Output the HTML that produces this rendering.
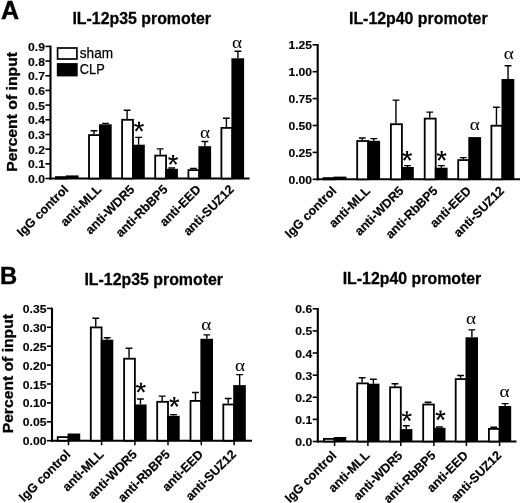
<!DOCTYPE html>
<html><head><meta charset="utf-8"><title>Figure</title>
<style>html,body{margin:0;padding:0;background:#fff}svg{display:block}</style></head><body>
<svg width="520" height="503" viewBox="0 0 520 503" font-family='"Liberation Sans", sans-serif' fill="#000">
<defs><filter id="b" x="0" y="0" width="520" height="503" filterUnits="userSpaceOnUse"><feGaussianBlur stdDeviation="0.35"/></filter></defs>
<rect width="520" height="503" fill="#fff"/>
<g filter="url(#b)">
<text x="0.9" y="18.7" font-size="25" font-weight="bold" stroke="#000" stroke-width="0.4">A</text>
<text transform="translate(-0.1 284.4) scale(0.95 0.99)" font-size="25" font-weight="bold" stroke="#000" stroke-width="0.4">B</text>
<text x="141.7" y="24.3" text-anchor="middle" font-size="17" textLength="138.6" lengthAdjust="spacingAndGlyphs" font-weight="bold" stroke="#000" stroke-width="0.3">IL-12p35 promoter</text>
<text x="418.3" y="24.2" text-anchor="middle" font-size="17" textLength="138.6" lengthAdjust="spacingAndGlyphs" font-weight="bold" stroke="#000" stroke-width="0.3">IL-12p40 promoter</text>
<text x="153.7" y="285.1" text-anchor="middle" font-size="17" textLength="138.6" lengthAdjust="spacingAndGlyphs" font-weight="bold" stroke="#000" stroke-width="0.3">IL-12p35 promoter</text>
<text x="412.0" y="284.3" text-anchor="middle" font-size="17" textLength="138.6" lengthAdjust="spacingAndGlyphs" font-weight="bold" stroke="#000" stroke-width="0.3">IL-12p40 promoter</text>
<text transform="translate(17.0 171.8) rotate(-90)" font-size="14.3" textLength="119.8" lengthAdjust="spacingAndGlyphs" font-weight="bold" stroke="#000" stroke-width="0.3">Percent of input</text>
<text transform="translate(13.4 433.3) rotate(-90)" font-size="14.3" textLength="119.3" lengthAdjust="spacingAndGlyphs" font-weight="bold" stroke="#000" stroke-width="0.3">Percent of input</text>
<path d="M50.5 45.65V179.5" stroke="#000" stroke-width="2.1" fill="none"/>
<path d="M49.45 178.5H249.6" stroke="#000" stroke-width="2" fill="none"/>
<path d="M45.40 178.50H50.5" stroke="#000" stroke-width="1.6"/>
<text transform="translate(44.90 183.00) scale(1.03 1)" text-anchor="end" font-size="11.8" font-weight="bold" stroke="#000" stroke-width="0.15">0.0</text>
<path d="M45.40 163.82H50.5" stroke="#000" stroke-width="1.6"/>
<text transform="translate(44.90 168.32) scale(1.03 1)" text-anchor="end" font-size="11.8" font-weight="bold" stroke="#000" stroke-width="0.15">0.1</text>
<path d="M45.40 149.14H50.5" stroke="#000" stroke-width="1.6"/>
<text transform="translate(44.90 153.64) scale(1.03 1)" text-anchor="end" font-size="11.8" font-weight="bold" stroke="#000" stroke-width="0.15">0.2</text>
<path d="M45.40 134.47H50.5" stroke="#000" stroke-width="1.6"/>
<text transform="translate(44.90 138.97) scale(1.03 1)" text-anchor="end" font-size="11.8" font-weight="bold" stroke="#000" stroke-width="0.15">0.3</text>
<path d="M45.40 119.79H50.5" stroke="#000" stroke-width="1.6"/>
<text transform="translate(44.90 124.29) scale(1.03 1)" text-anchor="end" font-size="11.8" font-weight="bold" stroke="#000" stroke-width="0.15">0.4</text>
<path d="M45.40 105.11H50.5" stroke="#000" stroke-width="1.6"/>
<text transform="translate(44.90 109.61) scale(1.03 1)" text-anchor="end" font-size="11.8" font-weight="bold" stroke="#000" stroke-width="0.15">0.5</text>
<path d="M45.40 90.43H50.5" stroke="#000" stroke-width="1.6"/>
<text transform="translate(44.90 94.93) scale(1.03 1)" text-anchor="end" font-size="11.8" font-weight="bold" stroke="#000" stroke-width="0.15">0.6</text>
<path d="M45.40 75.76H50.5" stroke="#000" stroke-width="1.6"/>
<text transform="translate(44.90 80.26) scale(1.03 1)" text-anchor="end" font-size="11.8" font-weight="bold" stroke="#000" stroke-width="0.15">0.7</text>
<path d="M45.40 61.08H50.5" stroke="#000" stroke-width="1.6"/>
<text transform="translate(44.90 65.58) scale(1.03 1)" text-anchor="end" font-size="11.8" font-weight="bold" stroke="#000" stroke-width="0.15">0.8</text>
<path d="M45.40 46.40H50.5" stroke="#000" stroke-width="1.6"/>
<text transform="translate(44.90 50.90) scale(1.03 1)" text-anchor="end" font-size="11.8" font-weight="bold" stroke="#000" stroke-width="0.15">0.9</text>
<rect x="55.90" y="177.10" width="10.90" height="1.40" fill="#fff" stroke="#000" stroke-width="1.8"/>
<rect x="65.90" y="175.40" width="12.70" height="3.10" fill="#000"/>
<path d="M94.0 134.2V130.8M90.6 130.8H97.4" stroke="#000" stroke-width="1.4" fill="none"/>
<path d="M105.5 124.3V123.4M102.1 123.4H108.9" stroke="#000" stroke-width="1.4" fill="none"/>
<rect x="89.00" y="135.10" width="10.90" height="43.40" fill="#fff" stroke="#000" stroke-width="1.8"/>
<rect x="99.00" y="124.30" width="12.70" height="54.20" fill="#000"/>
<path d="M127.10000000000001 118.9V110.3M123.7 110.3H130.5" stroke="#000" stroke-width="1.4" fill="none"/>
<path d="M138.6 144.7V137.4M135.2 137.4H142.0" stroke="#000" stroke-width="1.4" fill="none"/>
<rect x="122.10" y="119.80" width="10.90" height="58.70" fill="#fff" stroke="#000" stroke-width="1.8"/>
<rect x="132.10" y="144.70" width="12.70" height="33.80" fill="#000"/>
<path d="M160.20000000000002 154.7V148.9M156.8 148.9H163.60000000000002" stroke="#000" stroke-width="1.4" fill="none"/>
<path d="M171.70000000000002 168.8V168.0M168.3 168.0H175.10000000000002" stroke="#000" stroke-width="1.4" fill="none"/>
<rect x="155.20" y="155.60" width="10.90" height="22.90" fill="#fff" stroke="#000" stroke-width="1.8"/>
<rect x="165.20" y="168.80" width="12.70" height="9.70" fill="#000"/>
<path d="M193.4 169.2V168.4M190.0 168.4H196.8" stroke="#000" stroke-width="1.4" fill="none"/>
<path d="M204.9 146.2V141.5M201.5 141.5H208.3" stroke="#000" stroke-width="1.4" fill="none"/>
<rect x="188.40" y="170.10" width="10.90" height="8.40" fill="#fff" stroke="#000" stroke-width="1.8"/>
<rect x="198.40" y="146.20" width="12.70" height="32.30" fill="#000"/>
<path d="M226.4 127V118.2M223.0 118.2H229.8" stroke="#000" stroke-width="1.4" fill="none"/>
<path d="M237.9 58.3V51.3M234.5 51.3H241.3" stroke="#000" stroke-width="1.4" fill="none"/>
<rect x="221.40" y="127.90" width="10.90" height="50.60" fill="#fff" stroke="#000" stroke-width="1.8"/>
<rect x="231.40" y="58.30" width="12.70" height="120.20" fill="#000"/>
<text transform="translate(69.10 190.20) rotate(-45)" text-anchor="end" font-size="12.5" font-weight="bold" stroke="#000" stroke-width="0.2">IgG control</text>
<text transform="translate(102.20 190.20) rotate(-45)" text-anchor="end" font-size="12.5" font-weight="bold" stroke="#000" stroke-width="0.2">anti-MLL</text>
<text transform="translate(135.30 190.20) rotate(-45)" text-anchor="end" font-size="12.5" font-weight="bold" stroke="#000" stroke-width="0.2">anti-WDR5</text>
<text transform="translate(168.40 190.20) rotate(-45)" text-anchor="end" font-size="12.5" font-weight="bold" stroke="#000" stroke-width="0.2">anti-RbBP5</text>
<text transform="translate(201.60 190.20) rotate(-45)" text-anchor="end" font-size="12.5" font-weight="bold" stroke="#000" stroke-width="0.2">anti-EED</text>
<text transform="translate(234.60 190.20) rotate(-45)" text-anchor="end" font-size="12.5" font-weight="bold" stroke="#000" stroke-width="0.2">anti-SUZ12</text>
<path d="M139.55 127.00L140.15 121.70L137.85 121.70L138.45 127.00ZM138.60 127.11L143.92 126.01L143.21 123.82L138.26 126.06ZM138.20 126.24L141.30 131.53L143.16 130.17L139.09 125.59ZM138.91 125.59L134.84 130.17L136.70 131.53L139.80 126.24ZM139.74 126.06L134.79 123.82L134.08 126.01L139.40 127.11Z" fill="#000"/>
<path d="M173.65 160.30L174.25 155.00L171.95 155.00L172.55 160.30ZM172.70 160.41L178.02 159.31L177.31 157.12L172.36 159.36ZM172.30 159.54L175.40 164.83L177.26 163.47L173.19 158.89ZM173.01 158.89L168.94 163.47L170.80 164.83L173.90 159.54ZM173.84 159.36L168.89 157.12L168.18 159.31L173.50 160.41Z" fill="#000"/>
<text transform="translate(205 137.60) scale(1.28 1.08)" text-anchor="middle" font-size="15" font-family='"Liberation Serif", serif'>α</text>
<text transform="translate(237 47.50) scale(1.28 1.08)" text-anchor="middle" font-size="15" font-family='"Liberation Serif", serif'>α</text>
<rect x="57.6" y="48" width="19.3" height="11" fill="#fff" stroke="#000" stroke-width="1.7"/>
<rect x="56.8" y="63.1" width="20.9" height="13.3" fill="#000"/>
<text x="79.8" y="58.3" font-size="15" textLength="33.3" lengthAdjust="spacingAndGlyphs" stroke="#000" stroke-width="0.25">sham</text>
<text x="79.8" y="74.0" font-size="14.6" textLength="24.9" lengthAdjust="spacingAndGlyphs" stroke="#000" stroke-width="0.25">CLP</text>
<path d="M317.7 44.05V180.3" stroke="#000" stroke-width="2.1" fill="none"/>
<path d="M316.65 179.3H520" stroke="#000" stroke-width="2" fill="none"/>
<path d="M312.60 179.30H317.7" stroke="#000" stroke-width="1.6"/>
<text transform="translate(312.10 183.80) scale(1.03 1)" text-anchor="end" font-size="11.8" font-weight="bold" stroke="#000" stroke-width="0.15">0.00</text>
<path d="M312.60 152.40H317.7" stroke="#000" stroke-width="1.6"/>
<text transform="translate(312.10 156.90) scale(1.03 1)" text-anchor="end" font-size="11.8" font-weight="bold" stroke="#000" stroke-width="0.15">0.25</text>
<path d="M312.60 125.50H317.7" stroke="#000" stroke-width="1.6"/>
<text transform="translate(312.10 130.00) scale(1.03 1)" text-anchor="end" font-size="11.8" font-weight="bold" stroke="#000" stroke-width="0.15">0.50</text>
<path d="M312.60 98.60H317.7" stroke="#000" stroke-width="1.6"/>
<text transform="translate(312.10 103.10) scale(1.03 1)" text-anchor="end" font-size="11.8" font-weight="bold" stroke="#000" stroke-width="0.15">0.75</text>
<path d="M312.60 71.70H317.7" stroke="#000" stroke-width="1.6"/>
<text transform="translate(312.10 76.20) scale(1.03 1)" text-anchor="end" font-size="11.8" font-weight="bold" stroke="#000" stroke-width="0.15">1.00</text>
<path d="M312.60 44.80H317.7" stroke="#000" stroke-width="1.6"/>
<text transform="translate(312.10 49.30) scale(1.03 1)" text-anchor="end" font-size="11.8" font-weight="bold" stroke="#000" stroke-width="0.15">1.25</text>
<rect x="323.50" y="178.10" width="11.00" height="1.20" fill="#fff" stroke="#000" stroke-width="1.8"/>
<rect x="333.60" y="176.60" width="12.80" height="2.70" fill="#000"/>
<path d="M362.25 140.1V138M358.85 138H365.65" stroke="#000" stroke-width="1.4" fill="none"/>
<path d="M373.84999999999997 140.8V138.6M370.45 138.6H377.24999999999994" stroke="#000" stroke-width="1.4" fill="none"/>
<rect x="357.20" y="141.00" width="11.00" height="38.30" fill="#fff" stroke="#000" stroke-width="1.8"/>
<rect x="367.30" y="140.80" width="12.80" height="38.50" fill="#000"/>
<path d="M395.95 123.3V100.1M392.55 100.1H399.34999999999997" stroke="#000" stroke-width="1.4" fill="none"/>
<path d="M407.54999999999995 167V165.6M404.15 165.6H410.94999999999993" stroke="#000" stroke-width="1.4" fill="none"/>
<rect x="390.90" y="124.20" width="11.00" height="55.10" fill="#fff" stroke="#000" stroke-width="1.8"/>
<rect x="401.00" y="167.00" width="12.80" height="12.30" fill="#000"/>
<path d="M429.75 117.7V112.1M426.35 112.1H433.15" stroke="#000" stroke-width="1.4" fill="none"/>
<path d="M441.34999999999997 167.7V165.6M437.95 165.6H444.74999999999994" stroke="#000" stroke-width="1.4" fill="none"/>
<rect x="424.70" y="118.60" width="11.00" height="60.70" fill="#fff" stroke="#000" stroke-width="1.8"/>
<rect x="434.80" y="167.70" width="12.80" height="11.60" fill="#000"/>
<path d="M463.25 159.2V157.6M459.85 157.6H466.65" stroke="#000" stroke-width="1.4" fill="none"/>
<rect x="458.20" y="160.10" width="11.00" height="19.20" fill="#fff" stroke="#000" stroke-width="1.8"/>
<rect x="468.30" y="137.10" width="12.80" height="42.20" fill="#000"/>
<path d="M496.45 124.8V107.3M493.05 107.3H499.84999999999997" stroke="#000" stroke-width="1.4" fill="none"/>
<path d="M508.04999999999995 79V65.7M504.65 65.7H511.44999999999993" stroke="#000" stroke-width="1.4" fill="none"/>
<rect x="491.40" y="125.70" width="11.00" height="53.60" fill="#fff" stroke="#000" stroke-width="1.8"/>
<rect x="501.50" y="79.00" width="12.80" height="100.30" fill="#000"/>
<text transform="translate(337.10 191.50) rotate(-45)" text-anchor="end" font-size="12.5" font-weight="bold" stroke="#000" stroke-width="0.2">IgG control</text>
<text transform="translate(370.80 191.50) rotate(-45)" text-anchor="end" font-size="12.5" font-weight="bold" stroke="#000" stroke-width="0.2">anti-MLL</text>
<text transform="translate(404.50 191.50) rotate(-45)" text-anchor="end" font-size="12.5" font-weight="bold" stroke="#000" stroke-width="0.2">anti-WDR5</text>
<text transform="translate(438.30 191.50) rotate(-45)" text-anchor="end" font-size="12.5" font-weight="bold" stroke="#000" stroke-width="0.2">anti-RbBP5</text>
<text transform="translate(471.80 191.50) rotate(-45)" text-anchor="end" font-size="12.5" font-weight="bold" stroke="#000" stroke-width="0.2">anti-EED</text>
<text transform="translate(505.00 191.50) rotate(-45)" text-anchor="end" font-size="12.5" font-weight="bold" stroke="#000" stroke-width="0.2">anti-SUZ12</text>
<path d="M407.65 156.20L408.25 150.90L405.95 150.90L406.55 156.20ZM406.70 156.31L412.02 155.21L411.31 153.02L406.36 155.26ZM406.30 155.44L409.40 160.73L411.26 159.37L407.19 154.79ZM407.01 154.79L402.94 159.37L404.80 160.73L407.90 155.44ZM407.84 155.26L402.89 153.02L402.18 155.21L407.50 156.31Z" fill="#000"/>
<path d="M442.25 156.20L442.85 150.90L440.55 150.90L441.15 156.20ZM441.30 156.31L446.62 155.21L445.91 153.02L440.96 155.26ZM440.90 155.44L444.00 160.73L445.86 159.37L441.79 154.79ZM441.61 154.79L437.54 159.37L439.40 160.73L442.50 155.44ZM442.44 155.26L437.49 153.02L436.78 155.21L442.10 156.31Z" fill="#000"/>
<text transform="translate(474.7 130.40) scale(1.28 1.08)" text-anchor="middle" font-size="15" font-family='"Liberation Serif", serif'>α</text>
<text transform="translate(508.9 58.90) scale(1.28 1.08)" text-anchor="middle" font-size="15" font-family='"Liberation Serif", serif'>α</text>
<path d="M52.0 307.65V441.7" stroke="#000" stroke-width="2.1" fill="none"/>
<path d="M50.95 440.7H252" stroke="#000" stroke-width="2" fill="none"/>
<path d="M46.90 440.70H52.0" stroke="#000" stroke-width="1.6"/>
<text transform="translate(46.40 445.20) scale(1.03 1)" text-anchor="end" font-size="11.8" font-weight="bold" stroke="#000" stroke-width="0.15">0.00</text>
<path d="M46.90 421.80H52.0" stroke="#000" stroke-width="1.6"/>
<text transform="translate(46.40 426.30) scale(1.03 1)" text-anchor="end" font-size="11.8" font-weight="bold" stroke="#000" stroke-width="0.15">0.05</text>
<path d="M46.90 402.90H52.0" stroke="#000" stroke-width="1.6"/>
<text transform="translate(46.40 407.40) scale(1.03 1)" text-anchor="end" font-size="11.8" font-weight="bold" stroke="#000" stroke-width="0.15">0.10</text>
<path d="M46.90 384.00H52.0" stroke="#000" stroke-width="1.6"/>
<text transform="translate(46.40 388.50) scale(1.03 1)" text-anchor="end" font-size="11.8" font-weight="bold" stroke="#000" stroke-width="0.15">0.15</text>
<path d="M46.90 365.10H52.0" stroke="#000" stroke-width="1.6"/>
<text transform="translate(46.40 369.60) scale(1.03 1)" text-anchor="end" font-size="11.8" font-weight="bold" stroke="#000" stroke-width="0.15">0.20</text>
<path d="M46.90 346.20H52.0" stroke="#000" stroke-width="1.6"/>
<text transform="translate(46.40 350.70) scale(1.03 1)" text-anchor="end" font-size="11.8" font-weight="bold" stroke="#000" stroke-width="0.15">0.25</text>
<path d="M46.90 327.30H52.0" stroke="#000" stroke-width="1.6"/>
<text transform="translate(46.40 331.80) scale(1.03 1)" text-anchor="end" font-size="11.8" font-weight="bold" stroke="#000" stroke-width="0.15">0.30</text>
<path d="M46.90 308.40H52.0" stroke="#000" stroke-width="1.6"/>
<text transform="translate(46.40 312.90) scale(1.03 1)" text-anchor="end" font-size="11.8" font-weight="bold" stroke="#000" stroke-width="0.15">0.35</text>
<rect x="57.70" y="437.10" width="10.80" height="3.60" fill="#fff" stroke="#000" stroke-width="1.8"/>
<rect x="67.60" y="433.50" width="12.60" height="7.20" fill="#000"/>
<path d="M68.50 440.7V445.3" stroke="#000" stroke-width="1.5"/>
<path d="M95.75 326.5V318.2M92.35 318.2H99.15" stroke="#000" stroke-width="1.4" fill="none"/>
<path d="M107.15 339.7V337.8M103.75 337.8H110.55000000000001" stroke="#000" stroke-width="1.4" fill="none"/>
<rect x="90.80" y="327.40" width="10.80" height="113.30" fill="#fff" stroke="#000" stroke-width="1.8"/>
<rect x="100.70" y="339.70" width="12.60" height="101.00" fill="#000"/>
<path d="M101.60 440.7V445.3" stroke="#000" stroke-width="1.5"/>
<path d="M129.05 357.8V348.3M125.65 348.3H132.45000000000002" stroke="#000" stroke-width="1.4" fill="none"/>
<path d="M140.45 404.5V399M137.04999999999998 399H143.85" stroke="#000" stroke-width="1.4" fill="none"/>
<rect x="124.10" y="358.70" width="10.80" height="82.00" fill="#fff" stroke="#000" stroke-width="1.8"/>
<rect x="134.00" y="404.50" width="12.60" height="36.20" fill="#000"/>
<path d="M134.90 440.7V445.3" stroke="#000" stroke-width="1.5"/>
<path d="M162.15 400.9V396.1M158.75 396.1H165.55" stroke="#000" stroke-width="1.4" fill="none"/>
<path d="M173.54999999999998 415.8V414.6M170.14999999999998 414.6H176.95" stroke="#000" stroke-width="1.4" fill="none"/>
<rect x="157.20" y="401.80" width="10.80" height="38.90" fill="#fff" stroke="#000" stroke-width="1.8"/>
<rect x="167.10" y="415.80" width="12.60" height="24.90" fill="#000"/>
<path d="M168.00 440.7V445.3" stroke="#000" stroke-width="1.5"/>
<path d="M195.45 400V392.5M192.04999999999998 392.5H198.85" stroke="#000" stroke-width="1.4" fill="none"/>
<path d="M206.84999999999997 338.8V334.9M203.44999999999996 334.9H210.24999999999997" stroke="#000" stroke-width="1.4" fill="none"/>
<rect x="190.50" y="400.90" width="10.80" height="39.80" fill="#fff" stroke="#000" stroke-width="1.8"/>
<rect x="200.40" y="338.80" width="12.60" height="101.90" fill="#000"/>
<path d="M201.30 440.7V445.3" stroke="#000" stroke-width="1.5"/>
<path d="M228.25 403.6V398.5M224.85 398.5H231.65" stroke="#000" stroke-width="1.4" fill="none"/>
<path d="M239.64999999999998 385.1V374.6M236.24999999999997 374.6H243.04999999999998" stroke="#000" stroke-width="1.4" fill="none"/>
<rect x="223.30" y="404.50" width="10.80" height="36.20" fill="#fff" stroke="#000" stroke-width="1.8"/>
<rect x="233.20" y="385.10" width="12.60" height="55.60" fill="#000"/>
<path d="M234.10 440.7V445.3" stroke="#000" stroke-width="1.5"/>
<text transform="translate(71.20 455.10) rotate(-45)" text-anchor="end" font-size="12.5" font-weight="bold" stroke="#000" stroke-width="0.2">IgG control</text>
<text transform="translate(104.30 455.10) rotate(-45)" text-anchor="end" font-size="12.5" font-weight="bold" stroke="#000" stroke-width="0.2">anti-MLL</text>
<text transform="translate(137.60 455.10) rotate(-45)" text-anchor="end" font-size="12.5" font-weight="bold" stroke="#000" stroke-width="0.2">anti-WDR5</text>
<text transform="translate(170.70 455.10) rotate(-45)" text-anchor="end" font-size="12.5" font-weight="bold" stroke="#000" stroke-width="0.2">anti-RbBP5</text>
<text transform="translate(204.00 455.10) rotate(-45)" text-anchor="end" font-size="12.5" font-weight="bold" stroke="#000" stroke-width="0.2">anti-EED</text>
<text transform="translate(236.80 455.10) rotate(-45)" text-anchor="end" font-size="12.5" font-weight="bold" stroke="#000" stroke-width="0.2">anti-SUZ12</text>
<path d="M141.45 388.00L142.05 382.70L139.75 382.70L140.35 388.00ZM140.50 388.11L145.82 387.01L145.11 384.82L140.16 387.06ZM140.10 387.24L143.20 392.53L145.06 391.17L140.99 386.59ZM140.81 386.59L136.74 391.17L138.60 392.53L141.70 387.24ZM141.64 387.06L136.69 384.82L135.98 387.01L141.30 388.11Z" fill="#000"/>
<path d="M174.85 402.40L175.45 397.10L173.15 397.10L173.75 402.40ZM173.90 402.51L179.22 401.41L178.51 399.22L173.56 401.46ZM173.50 401.64L176.60 406.93L178.46 405.57L174.39 400.99ZM174.21 400.99L170.14 405.57L172.00 406.93L175.10 401.64ZM175.04 401.46L170.09 399.22L169.38 401.41L174.70 402.51Z" fill="#000"/>
<text transform="translate(206.3 329.50) scale(1.28 1.08)" text-anchor="middle" font-size="15" font-family='"Liberation Serif", serif'>α</text>
<text transform="translate(240 370.50) scale(1.28 1.08)" text-anchor="middle" font-size="15" font-family='"Liberation Serif", serif'>α</text>
<path d="M317.8 308.05V442.5" stroke="#000" stroke-width="2.1" fill="none"/>
<path d="M316.75 441.5H516.5" stroke="#000" stroke-width="2" fill="none"/>
<path d="M312.70 441.50H317.8" stroke="#000" stroke-width="1.6"/>
<text transform="translate(312.20 446.00) scale(1.03 1)" text-anchor="end" font-size="11.8" font-weight="bold" stroke="#000" stroke-width="0.15">0.0</text>
<path d="M312.70 419.38H317.8" stroke="#000" stroke-width="1.6"/>
<text transform="translate(312.20 423.88) scale(1.03 1)" text-anchor="end" font-size="11.8" font-weight="bold" stroke="#000" stroke-width="0.15">0.1</text>
<path d="M312.70 397.27H317.8" stroke="#000" stroke-width="1.6"/>
<text transform="translate(312.20 401.77) scale(1.03 1)" text-anchor="end" font-size="11.8" font-weight="bold" stroke="#000" stroke-width="0.15">0.2</text>
<path d="M312.70 375.15H317.8" stroke="#000" stroke-width="1.6"/>
<text transform="translate(312.20 379.65) scale(1.03 1)" text-anchor="end" font-size="11.8" font-weight="bold" stroke="#000" stroke-width="0.15">0.3</text>
<path d="M312.70 353.03H317.8" stroke="#000" stroke-width="1.6"/>
<text transform="translate(312.20 357.53) scale(1.03 1)" text-anchor="end" font-size="11.8" font-weight="bold" stroke="#000" stroke-width="0.15">0.4</text>
<path d="M312.70 330.92H317.8" stroke="#000" stroke-width="1.6"/>
<text transform="translate(312.20 335.42) scale(1.03 1)" text-anchor="end" font-size="11.8" font-weight="bold" stroke="#000" stroke-width="0.15">0.5</text>
<path d="M312.70 308.80H317.8" stroke="#000" stroke-width="1.6"/>
<text transform="translate(312.20 313.30) scale(1.03 1)" text-anchor="end" font-size="11.8" font-weight="bold" stroke="#000" stroke-width="0.15">0.6</text>
<rect x="323.90" y="438.90" width="10.70" height="2.60" fill="#fff" stroke="#000" stroke-width="1.8"/>
<rect x="333.70" y="437.00" width="12.50" height="4.50" fill="#000"/>
<path d="M334.60 441.5V446.1" stroke="#000" stroke-width="1.5"/>
<path d="M362.1 382.5V377.7M358.70000000000005 377.7H365.5" stroke="#000" stroke-width="1.4" fill="none"/>
<path d="M373.40000000000003 383.7V379.3M370.00000000000006 379.3H376.8" stroke="#000" stroke-width="1.4" fill="none"/>
<rect x="357.20" y="383.40" width="10.70" height="58.10" fill="#fff" stroke="#000" stroke-width="1.8"/>
<rect x="367.00" y="383.70" width="12.50" height="57.80" fill="#000"/>
<path d="M367.90 441.5V446.1" stroke="#000" stroke-width="1.5"/>
<path d="M395.0 386.4V383.7M391.6 383.7H398.4" stroke="#000" stroke-width="1.4" fill="none"/>
<path d="M406.3 429.1V425.7M402.90000000000003 425.7H409.7" stroke="#000" stroke-width="1.4" fill="none"/>
<rect x="390.10" y="387.30" width="10.70" height="54.20" fill="#fff" stroke="#000" stroke-width="1.8"/>
<rect x="399.90" y="429.10" width="12.50" height="12.40" fill="#000"/>
<path d="M400.80 441.5V446.1" stroke="#000" stroke-width="1.5"/>
<path d="M428.1 403.6V402.2M424.70000000000005 402.2H431.5" stroke="#000" stroke-width="1.4" fill="none"/>
<path d="M439.40000000000003 427.8V427.0M436.00000000000006 427.0H442.8" stroke="#000" stroke-width="1.4" fill="none"/>
<rect x="423.20" y="404.50" width="10.70" height="37.00" fill="#fff" stroke="#000" stroke-width="1.8"/>
<rect x="433.00" y="427.80" width="12.50" height="13.70" fill="#000"/>
<path d="M433.90 441.5V446.1" stroke="#000" stroke-width="1.5"/>
<path d="M460.6 378.2V375.5M457.20000000000005 375.5H464.0" stroke="#000" stroke-width="1.4" fill="none"/>
<path d="M471.90000000000003 337.3V329.9M468.50000000000006 329.9H475.3" stroke="#000" stroke-width="1.4" fill="none"/>
<rect x="455.70" y="379.10" width="10.70" height="62.40" fill="#fff" stroke="#000" stroke-width="1.8"/>
<rect x="465.50" y="337.30" width="12.50" height="104.20" fill="#000"/>
<path d="M466.40 441.5V446.1" stroke="#000" stroke-width="1.5"/>
<path d="M493.8 428.0V427.2M490.40000000000003 427.2H497.2" stroke="#000" stroke-width="1.4" fill="none"/>
<path d="M505.1 406V403.6M501.70000000000005 403.6H508.5" stroke="#000" stroke-width="1.4" fill="none"/>
<rect x="488.90" y="428.90" width="10.70" height="12.60" fill="#fff" stroke="#000" stroke-width="1.8"/>
<rect x="498.70" y="406.00" width="12.50" height="35.50" fill="#000"/>
<path d="M499.60 441.5V446.1" stroke="#000" stroke-width="1.5"/>
<text transform="translate(337.10 456.20) rotate(-45)" text-anchor="end" font-size="12.5" font-weight="bold" stroke="#000" stroke-width="0.2">IgG control</text>
<text transform="translate(370.40 456.20) rotate(-45)" text-anchor="end" font-size="12.5" font-weight="bold" stroke="#000" stroke-width="0.2">anti-MLL</text>
<text transform="translate(403.30 456.20) rotate(-45)" text-anchor="end" font-size="12.5" font-weight="bold" stroke="#000" stroke-width="0.2">anti-WDR5</text>
<text transform="translate(436.40 456.20) rotate(-45)" text-anchor="end" font-size="12.5" font-weight="bold" stroke="#000" stroke-width="0.2">anti-RbBP5</text>
<text transform="translate(468.90 456.20) rotate(-45)" text-anchor="end" font-size="12.5" font-weight="bold" stroke="#000" stroke-width="0.2">anti-EED</text>
<text transform="translate(502.10 456.20) rotate(-45)" text-anchor="end" font-size="12.5" font-weight="bold" stroke="#000" stroke-width="0.2">anti-SUZ12</text>
<path d="M407.35 416.60L407.95 411.30L405.65 411.30L406.25 416.60ZM406.40 416.71L411.72 415.61L411.01 413.42L406.06 415.66ZM406.00 415.84L409.10 421.13L410.96 419.77L406.89 415.19ZM406.71 415.19L402.64 419.77L404.50 421.13L407.60 415.84ZM407.54 415.66L402.59 413.42L401.88 415.61L407.20 416.71Z" fill="#000"/>
<path d="M441.05 415.70L441.65 410.40L439.35 410.40L439.95 415.70ZM440.10 415.81L445.42 414.71L444.71 412.52L439.76 414.76ZM439.70 414.94L442.80 420.23L444.66 418.87L440.59 414.29ZM440.41 414.29L436.34 418.87L438.20 420.23L441.30 414.94ZM441.24 414.76L436.29 412.52L435.58 414.71L440.90 415.81Z" fill="#000"/>
<text transform="translate(471 324.30) scale(1.28 1.08)" text-anchor="middle" font-size="15" font-family='"Liberation Serif", serif'>α</text>
<text transform="translate(504.5 396.80) scale(1.28 1.08)" text-anchor="middle" font-size="15" font-family='"Liberation Serif", serif'>α</text>
</g></svg></body></html>
